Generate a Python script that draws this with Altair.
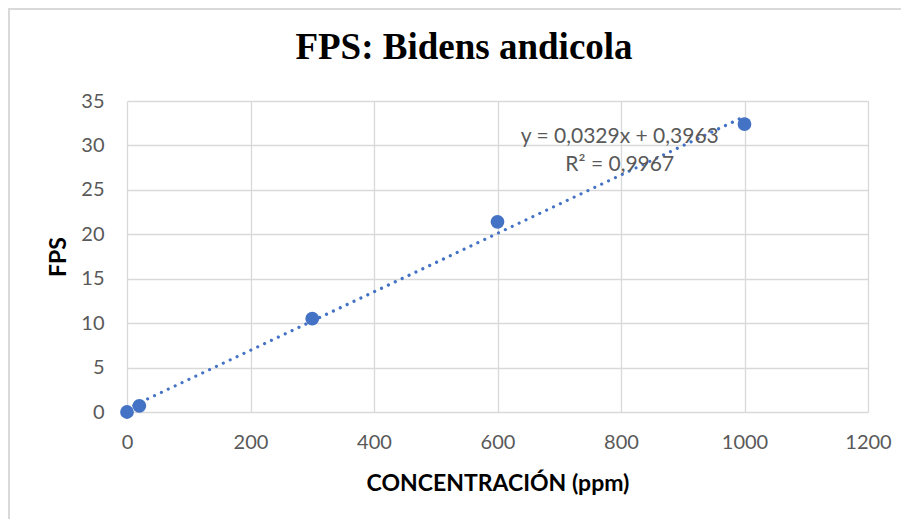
import altair as alt
import pandas as pd

conc = [0, 20, 300, 600, 1000]
fps = [0.0, 0.7, 10.5, 21.4, 32.4]
eq_lines = ["y = 0,0329x + 0,3963", "R² = 0,9967"]
eq_pos = [798, 30.9]
title_text = "FPS: Bidens andicola"
x_title = "CONCENTRACIÓN (ppm)"
y_title = "FPS"

W, H = 741, 311
BLUE = "#4472C4"
GRID = "#d9d9d9"
LABEL = "#595959"
SANS = "Lato"

df = pd.DataFrame({"x": conc, "y": fps})
eq_df = pd.DataFrame({"x": [eq_pos[0]], "y": [eq_pos[1]], "t": [eq_lines]})
title_df = pd.DataFrame({"t": [title_text]})

xs = alt.Scale(domain=[0, 1200], nice=False, zero=False)
ys = alt.Scale(domain=[0, 35], nice=False, zero=False)

x_axis = alt.Axis(values=list(range(0, 1201, 200)), format="d", title=x_title, grid=True,
                  gridColor=GRID, gridWidth=1.3, domain=False, ticks=False, tickSize=0,
                  labelPadding=20, labelFont=SANS, labelFontSize=20, labelColor=LABEL,
                  labelFlush=False, titleFont=SANS, titleFontSize=23, titleFontWeight="bold",
                  titleColor="black", titleX=W / 2, titleY=71, titleBaseline="middle",
                  titleAlign="center")
y_axis = alt.Axis(values=list(range(0, 36, 5)), format="d", title=y_title, grid=True,
                  gridColor=GRID, gridWidth=1.3, domain=False, ticks=False, tickSize=0,
                  labelPadding=23, labelFont=SANS, labelFontSize=20, labelColor=LABEL,
                  labelFlush=False, titleFont=SANS, titleFontSize=23, titleFontWeight="bold",
                  titleColor="black", titleX=-69, titleY=H / 2, titleAngle=-90,
                  titleBaseline="middle", titleAlign="center")

base = alt.Chart(df)

trend = base.transform_regression("x", "y", extent=[0, 1000]).mark_line(
    color=BLUE, strokeWidth=3.2, strokeDash=[0.01, 7.6], strokeCap="round"
).encode(x=alt.X("x:Q", scale=xs, axis=x_axis), y=alt.Y("y:Q", scale=ys, axis=y_axis))

pts = base.mark_circle(color=BLUE, size=190, opacity=1).encode(
    x=alt.X("x:Q", scale=xs), y=alt.Y("y:Q", scale=ys))

eq = alt.Chart(eq_df).mark_text(font=SANS, fontSize=21, color=LABEL, align="center",
                                baseline="middle", lineHeight=28).encode(
    x=alt.X("x:Q", scale=xs), y=alt.Y("y:Q", scale=ys), text="t")

title = alt.Chart(title_df).mark_text(font="Liberation Serif", fontSize=37, fontWeight="bold",
                                      color="black", align="center", baseline="middle").encode(
    x=alt.value(337), y=alt.value(-53), text="t")

border_top = alt.Chart(df).mark_rule(color=GRID, strokeWidth=2).encode(
    x=alt.value(-119), x2=alt.value(774), y=alt.value(-92))
border_left = alt.Chart(df).mark_rule(color=GRID, strokeWidth=2).encode(
    x=alt.value(-118), y=alt.value(-93), y2=alt.value(418))

chart = alt.layer(border_top, border_left, trend, pts, eq, title).properties(
    width=W, height=H,
    autosize=alt.AutoSizeParams(type="none"),
    padding={"left": 119, "top": 93, "right": 33, "bottom": 107},
).configure_view(stroke=None)

chart.save("out.html", embed_options={"renderer": "svg", "actions": False})
